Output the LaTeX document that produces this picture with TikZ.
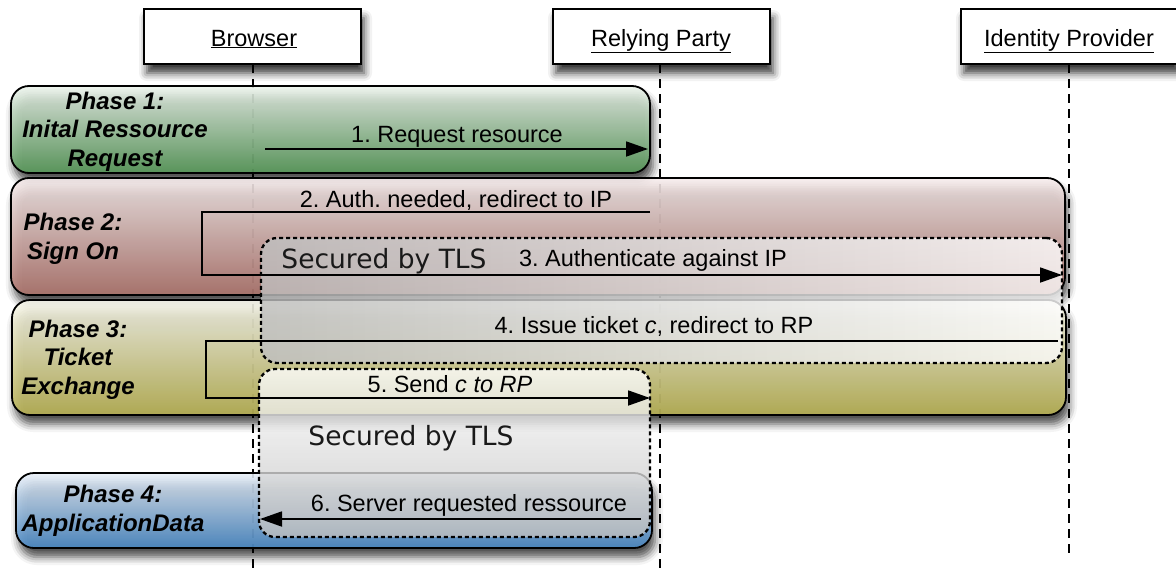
\documentclass[tikz,border=0pt]{standalone}
\usepackage{fontspec}
\setmainfont{Liberation Sans}
\newfontfamily\tlsfont{DejaVu Sans}
\usetikzlibrary{arrows.meta,shadows.blur}
\definecolor{gtop}{HTML}{EEF5EE}\definecolor{gbot}{HTML}{5A9E5C}
\definecolor{rtop}{HTML}{F8EEEE}\definecolor{rbot}{HTML}{B37870}
\definecolor{otop}{HTML}{FBFBF0}\definecolor{obot}{HTML}{BDB655}
\definecolor{btop}{HTML}{EAF0F8}\definecolor{bbot}{HTML}{4C8DCB}
\frenchspacing
\begin{document}
\begin{tikzpicture}[x=1pt,y=-1pt,
  shad/.style={blur shadow={shadow xshift=3pt,shadow yshift=-9pt,shadow blur radius=8pt,shadow opacity=80}},
  part/.style={draw=black,line width=1.8pt,fill=white,minimum width=217pt,minimum height=55pt,inner sep=0pt,shad},
  ptext/.style={font=\fontsize{23.5}{28}\selectfont\frenchspacing,inner sep=0pt,anchor=base},
  life/.style={line width=1.8pt,dash pattern=on 9pt off 6pt},
  phase/.style={draw=black,line width=1.8pt,rounded corners=18pt,inner sep=0pt,fill opacity=0.88,shad},
  tls/.style={draw=black,line width=2.3pt,dash pattern=on 4pt off 3pt,rounded corners=16pt,inner sep=0pt,fill opacity=0.8},
  ptitle/.style={font=\fontsize{24}{28.5}\selectfont\bfseries\itshape,align=center,inner sep=0pt,anchor=base},
  lbl/.style={font=\fontsize{23.5}{28}\selectfont\frenchspacing,inner sep=0pt,anchor=base},
  tlstext/.style={font=\fontsize{26.5}{30}\selectfont\tlsfont,inner sep=0pt,anchor=base,text=black!90},
  msg/.style={line width=1.8pt,-{Triangle[length=22pt,width=15pt]}}]
\useasboundingbox (0,0) rectangle (1176,573);
% lifelines
\coordinate (bl0) at (253,64); \coordinate (bl1) at (253,573);
\coordinate (rl0) at (660,64); \coordinate (rl1) at (660,573);
\coordinate (il0) at (1069,64); \coordinate (il1) at (1069,556);
\draw[life] (bl0) -- (bl1);
\draw[life] (rl0) -- (rl1);
\draw[life] (il0) -- (il1);
% participants
\node[part] (browser) at (252.5,36.5) {};
\node[part] (rp) at (661.5,36.5) {};
\node[part,minimum width=216pt] (ip) at (1069,36.5) {};
\node[ptext] (browsert) at (254,46) {\underline{Browser}};
\node[ptext] (rpt) at (661,46) {\underline{Relying Party}};
\node[ptext] (ipt) at (1069,46) {\underline{Identity Provider}};
% phases
\node[phase,minimum width=639pt,minimum height=87pt,top color=gtop,bottom color=gbot] (ph1) at (330.5,129.5) {};
\node[phase,minimum width=1054pt,minimum height=117pt,top color=rtop,bottom color=rbot] (ph2) at (538,236.5) {};
\node[phase,minimum width=1054pt,minimum height=115pt,top color=otop,bottom color=obot] (ph3) at (539,357.5) {};
\node[phase,minimum width=636pt,minimum height=75pt,top color=btop,bottom color=bbot] (ph4) at (334,510.5) {};
\node[ptitle] (ph1t) at (115,166) {Phase 1:\\Inital Ressource\\Request};
\node[ptitle] (ph2t) at (73,259) {Phase 2:\\Sign On};
\node[ptitle] (ph3t) at (78,394) {Phase 3:\\Ticket\\Exchange};
\node[ptitle] (ph4t) at (113,531) {Phase 4:\\ApplicationData};
% TLS boxes
\node[tls,minimum width=801pt,minimum height=125pt,left color=black!25,right color=white] (tls1) at (661.5,300.5) {};
\node[tls,minimum width=391pt,minimum height=168pt,top color=white,bottom color=black!25] (tls2) at (454.5,453) {};
\node[tlstext] (tls1t) at (384,268) {Secured by TLS};
\node[tlstext] (tls2t) at (411,445) {Secured by TLS};
% messages
\coordinate (a1s) at (265,149); \coordinate (a1e) at (648,149);
\draw[msg] (a1s) -- (a1e);
\node[lbl] (l1) at (457,142) {1. Request resource};
\coordinate (a2s) at (650,212); \coordinate (a2a) at (202,212); \coordinate (a2b) at (202,275); \coordinate (a2e) at (1062,275);
\draw[msg] (a2s) -- (a2a) -- (a2b) -- (a2e);
\node[lbl] (l2) at (456,207) {2. Auth. needed, redirect to IP};
\node[lbl] (l3) at (653,266) {3. Authenticate against IP};
\coordinate (a4s) at (1058,341); \coordinate (a4a) at (206,341); \coordinate (a4b) at (206,398); \coordinate (a4e) at (650,398);
\draw[msg] (a4s) -- (a4a) -- (a4b) -- (a4e);
\node[lbl] (l4) at (654,333) {4. Issue ticket \textit{c}, redirect to RP};
\node[lbl] (l5) at (450,392) {5. Send \textit{c to RP}};
\coordinate (a6s) at (641,519); \coordinate (a6e) at (260,519);
\draw[msg] (a6s) -- (a6e);
\node[lbl] (l6) at (469,511) {6. Server requested ressource};
\end{tikzpicture}
\end{document}
